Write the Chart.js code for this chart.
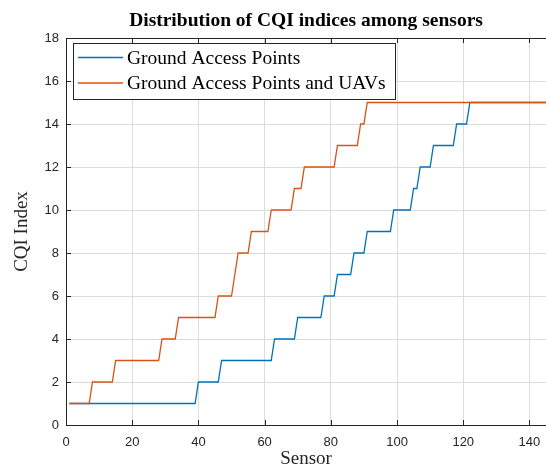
<!DOCTYPE html>
<html>
<head>
<meta charset="utf-8">
<title>Distribution of CQI indices among sensors</title>
<script src="https://cdn.jsdelivr.net/npm/chart.js@4.4.1/dist/chart.umd.min.js"></script>
<style>
  html, body { margin: 0; padding: 0; background: #ffffff; }
  #wrap { width: 546px; height: 470px; position: relative; overflow: hidden; }
</style>
</head>
<body>
<div id="wrap"><canvas id="cqi" width="546" height="470"></canvas></div>
<script>
// CQI index per sensor (sensor 1 .. 145), sorted ascending
const GROUND_APS = [
  1,1,1,1,1,1,1,1,1,1, 1,1,1,1,1,1,1,1,1,1, 1,1,1,1,1,1,1,1,1,1, 1,1,1,1,1,1,1,1,1,
  2,2,2,2,2,2,2,
  3,3,3,3,3,3,3,3,3,3,3,3,3,3,3,3,
  4,4,4,4,4,4,4,
  5,5,5,5,5,5,5,5,
  6,6,6,6,
  7,7,7,7,7,
  8,8,8,8,
  9,9,9,9,9,9,9,9,
  10,10,10,10,10,10,
  11,11,
  12,12,12,12,
  13,13,13,13,13,13,13,
  14,14,14,14,
  15,15,15,15,15,15,15,15,15,15, 15,15,15,15,15,15,15,15,15,15, 15,15,15,15
];

const GROUND_APS_UAVS = [
  1,1,1,1,1,1,1,
  2,2,2,2,2,2,2,
  3,3,3,3,3,3,3,3,3,3,3,3,3,3,
  4,4,4,4,4,
  5,5,5,5,5,5,5,5,5,5,5,5,
  6,6,6,6,6,
  7,
  8,8,8,8,
  9,9,9,9,9,9,
  10,10,10,10,10,10,10,
  11,11,11,
  12,12,12,12,12,12,12,12,12,12,
  13,13,13,13,13,13,13,
  14,14,
  15,15,15,15,15,15,15,15,15,15, 15,15,15,15,15,15,15,15,15,15,
  15,15,15,15,15,15,15,15,15,15, 15,15,15,15,15,15,15,15,15,15,
  15,15,15,15,15,15,15,15,15,15, 15,15,15,15,15
];

const SERIES_LABELS = ['Ground Access Points', 'Ground Access Points and UAVs'];
const X_TICKS = [0, 20, 40, 60, 80, 100, 120, 140];
const Y_TICKS = [0, 2, 4, 6, 8, 10, 12, 14, 16, 18];

const BLUE = '#0072BD';
const ORANGE = '#D95319';
const AXIS = '#262626';
const GRID = '#dcdcdc';
const SERIF = '"Liberation Serif", "Times New Roman", serif';
const SANS = '"Liberation Sans", Arial, sans-serif';

const toPoints = arr => arr.map((v, i) => ({ x: i + 1, y: v }));

// Title, boxed axes with inward ticks, and the legend box
const framePlugin = {
  id: 'frame',
  afterDraw(chart) {
    const { ctx, chartArea: a, scales: { x, y } } = chart;
    ctx.save();

    // top edge of the axes box
    ctx.strokeStyle = AXIS;
    ctx.lineWidth = 1;
    ctx.beginPath();
    ctx.moveTo(a.left, Math.round(a.top) + 0.5);
    ctx.lineTo(a.right, Math.round(a.top) + 0.5);
    ctx.stroke();

    // inward tick marks
    const tl = 5;
    ctx.beginPath();
    X_TICKS.forEach(v => {
      const px = Math.round(x.getPixelForValue(v)) + 0.5;
      ctx.moveTo(px, a.bottom);
      ctx.lineTo(px, a.bottom - tl);
      ctx.moveTo(px, a.top);
      ctx.lineTo(px, a.top + tl);
    });
    Y_TICKS.forEach(v => {
      const py = Math.round(y.getPixelForValue(v)) + 0.5;
      ctx.moveTo(a.left, py);
      ctx.lineTo(a.left + tl, py);
    });
    ctx.stroke();

    // title
    ctx.fillStyle = '#000000';
    ctx.font = 'bold 19.5px ' + SERIF;
    ctx.textAlign = 'center';
    ctx.textBaseline = 'alphabetic';
    ctx.fillText('Distribution of CQI indices among sensors', (a.left + a.right) / 2, 26);

    // legend
    const box = { x: 73.5, y: 43.5, w: 322, h: 56 };
    ctx.fillStyle = '#ffffff';
    ctx.fillRect(box.x, box.y, box.w, box.h);
    ctx.strokeStyle = AXIS;
    ctx.lineWidth = 1;
    ctx.strokeRect(box.x, box.y, box.w, box.h);

    const rows = [57.5, 83];
    const colors = [BLUE, ORANGE];
    ctx.font = '19.5px ' + SERIF;
    ctx.textAlign = 'left';
    ctx.textBaseline = 'middle';
    rows.forEach((ry, i) => {
      ctx.strokeStyle = colors[i];
      ctx.lineWidth = 1.3;
      ctx.beginPath();
      ctx.moveTo(78, ry);
      ctx.lineTo(123, ry);
      ctx.stroke();
      ctx.fillStyle = '#000000';
      ctx.fillText(SERIES_LABELS[i], 127, ry + 1);
    });

    ctx.restore();
  }
};

new Chart(document.getElementById('cqi'), {
  type: 'line',
  data: {
    datasets: [
      {
        label: SERIES_LABELS[0],
        data: toPoints(GROUND_APS),
        borderColor: BLUE,
        borderWidth: 1.3,
        pointRadius: 0,
        tension: 0,
        fill: false,
        order: 1
      },
      {
        label: SERIES_LABELS[1],
        data: toPoints(GROUND_APS_UAVS),
        borderColor: ORANGE,
        borderWidth: 1.3,
        pointRadius: 0,
        tension: 0,
        fill: false,
        order: 0
      }
    ]
  },
  options: {
    responsive: false,
    animation: false,
    devicePixelRatio: 1,
    layout: { padding: { top: 38, left: 0, right: 0, bottom: 0 } },
    plugins: {
      legend: { display: false },
      title: { display: false },
      tooltip: { enabled: false }
    },
    scales: {
      x: {
        type: 'linear',
        min: 0,
        max: 145,
        afterBuildTicks: s => { s.ticks = X_TICKS.map(v => ({ value: v })); },
        afterFit: s => { s.height = 45; s.paddingLeft = 0; s.paddingRight = 0; },
        grid: { color: GRID, lineWidth: 1, drawTicks: false },
        border: { display: true, color: AXIS, width: 1 },
        ticks: {
          color: AXIS,
          font: { family: SANS, size: 13 },
          padding: 10,
          maxRotation: 0,
          autoSkip: false
        },
        title: {
          display: true,
          text: 'Sensor',
          color: AXIS,
          font: { family: SERIF, size: 19, lineHeight: 1 },
          padding: { top: 0, bottom: 1 }
        }
      },
      y: {
        type: 'linear',
        min: 0,
        max: 18,
        afterBuildTicks: s => { s.ticks = Y_TICKS.map(v => ({ value: v })); },
        afterFit: s => { s.width = 66; s.paddingTop = 0; s.paddingBottom = 0; },
        grid: { color: GRID, lineWidth: 1, drawTicks: false },
        border: { display: true, color: AXIS, width: 1 },
        ticks: {
          color: AXIS,
          font: { family: SANS, size: 13 },
          padding: 7,
          autoSkip: false
        },
        title: {
          display: true,
          text: 'CQI Index',
          color: AXIS,
          font: { family: SERIF, size: 19, lineHeight: 1 },
          padding: { top: 13, bottom: 0 }
        }
      }
    }
  },
  plugins: [framePlugin]
});
</script>
</body>
</html>
